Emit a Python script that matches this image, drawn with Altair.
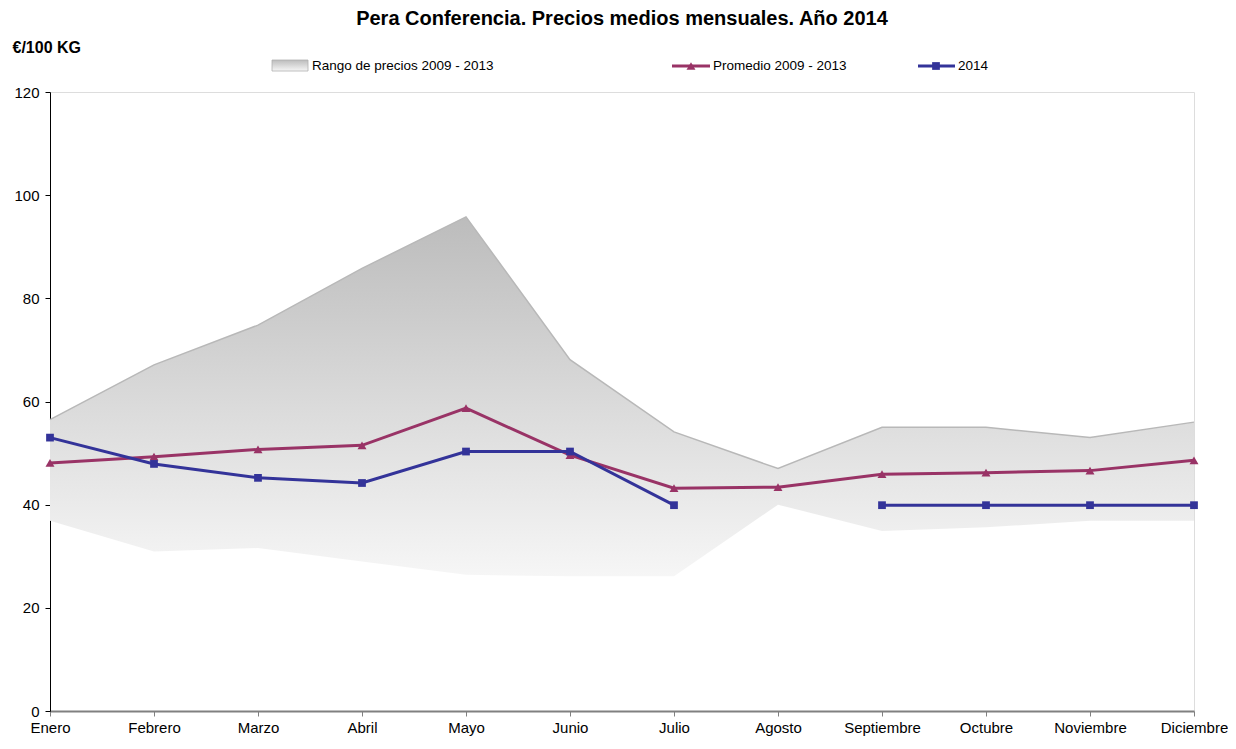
import altair as alt
import pandas as pd

months = ["Enero", "Febrero", "Marzo", "Abril", "Mayo", "Junio", "Julio",
          "Agosto", "Septiembre", "Octubre", "Noviembre", "Diciembre"]
rango_max = [56.5, 67.1, 74.8, 85.8, 95.8, 68.1, 54.1, 47.0, 55.0, 55.0, 53.0, 56.0]
rango_min = [36.9, 30.9, 31.6, 29.0, 26.4, 26.1, 26.1, 40.0, 34.9, 35.6, 36.9, 36.9]
promedio = [48.1, 49.3, 50.7, 51.5, 58.7, 49.6, 43.2, 43.4, 45.9, 46.2, 46.6, 48.6]
precio_2014 = [53.0, 47.9, 45.2, 44.2, 50.3, 50.3, 39.9, None, 39.9, 39.9, 39.9, 39.9]
y_ticks = [0, 20, 40, 60, 80, 100, 120]

FONT = "Liberation Sans"
C_PROM = "#993366"
C_2014 = "#333399"

seg = []
s = 0
for v in precio_2014:
    if v is None:
        s += 1
    seg.append(s)

df = pd.DataFrame({
    "mes": months, "max": rango_max, "min": rango_min,
    "prom": promedio, "p2014": precio_2014, "seg": seg,
})
df14 = df.dropna(subset=["p2014"])

xscale = alt.Scale(type="point", padding=0, domain=months)
x = alt.X("mes:N", scale=xscale, sort=months,
          axis=alt.Axis(title=None, labelAngle=0, labelFont=FONT, labelFontSize=15,
                        labelColor="black", labelPadding=4, tickColor="#808080",
                        tickSize=5, domainColor="#808080", domainWidth=2,
                        labelOverlap=False))
yscale = alt.Scale(domain=[0, 120], nice=False)
yaxis = alt.Axis(values=y_ticks, title="€/100 KG", titleAngle=0, titleX=-38, titleY=-45,
                 titleAlign="left", titleBaseline="middle", titleFont=FONT,
                 titleFontSize=16, titleFontWeight="bold", titleColor="black",
                 labelFont=FONT, labelFontSize=15, labelColor="black", labelPadding=6,
                 tickColor="black", tickSize=5, domainColor="black", grid=False)

grad = alt.Gradient(gradient="linear",
                    stops=[alt.GradientStop(color="#bcbcbc", offset=0),
                           alt.GradientStop(color="#f6f6f6", offset=1)],
                    x1=0, x2=0, y1=0, y2=1)

band = alt.Chart(df).mark_area(fill=grad, opacity=1).encode(
    x=x, y=alt.Y("max:Q", scale=yscale, axis=yaxis), y2="min:Q")
upper = alt.Chart(df).mark_line(color="#b8b8b8", strokeWidth=1.5).encode(
    x=x, y="max:Q")

prom_line = alt.Chart(df).mark_line(color=C_PROM, strokeWidth=3).encode(x=x, y="prom:Q")
prom_pts = alt.Chart(df).mark_point(shape="triangle-up", filled=True, color=C_PROM,
                                    size=80, opacity=1).encode(x=x, y="prom:Q")
l14 = alt.Chart(df14).mark_line(color=C_2014, strokeWidth=3).encode(
    x=x, y="p2014:Q", detail="seg:N")
p14 = alt.Chart(df14).mark_point(shape="square", filled=True, color=C_2014,
                                 size=60, opacity=1).encode(x=x, y="p2014:Q")

# legend (custom, above plot)
LY = -26
leg = pd.DataFrame({"d": [0]})
lg_sw = alt.Chart(leg).mark_rect(fill=grad, stroke="#b0b0b0", strokeWidth=0.8).encode(
    x=alt.value(222), x2=alt.value(258), y=alt.value(LY - 6), y2=alt.value(LY + 5))
lg_t1 = alt.Chart(leg).mark_text(text="Rango de precios 2009 - 2013", align="left",
                                 baseline="middle", font=FONT, fontSize=13.5,
                                 color="black").encode(x=alt.value(262), y=alt.value(LY))
lg_l2 = alt.Chart(leg).mark_rule(color=C_PROM, strokeWidth=3).encode(
    x=alt.value(622), x2=alt.value(660), y=alt.value(LY))
lg_p2 = alt.Chart(leg).mark_point(shape="triangle-up", filled=True, color=C_PROM,
                                  size=80, opacity=1).encode(x=alt.value(641), y=alt.value(LY))
lg_t2 = alt.Chart(leg).mark_text(text="Promedio 2009 - 2013", align="left",
                                 baseline="middle", font=FONT, fontSize=13.5,
                                 color="black").encode(x=alt.value(663), y=alt.value(LY))
lg_l3 = alt.Chart(leg).mark_rule(color=C_2014, strokeWidth=3).encode(
    x=alt.value(868), x2=alt.value(905), y=alt.value(LY))
lg_p3 = alt.Chart(leg).mark_point(shape="square", filled=True, color=C_2014,
                                  size=60, opacity=1).encode(x=alt.value(886), y=alt.value(LY))
lg_t3 = alt.Chart(leg).mark_text(text="2014", align="left",
                                 baseline="middle", font=FONT, fontSize=13.5,
                                 color="black").encode(x=alt.value(908), y=alt.value(LY))

chart = alt.layer(
    band, upper, prom_line, prom_pts, l14, p14,
    lg_sw, lg_t1, lg_l2, lg_p2, lg_t2, lg_l3, lg_p3, lg_t3,
).properties(
    width=1144, height=619,
    title=alt.TitleParams("Pera Conferencia. Precios medios mensuales. Año 2014",
                          font=FONT, fontSize=20, fontWeight="bold", color="black",
                          anchor="middle", frame="group", offset=10, dx=0),
    autosize=alt.AutoSizeParams(type="none"),
    padding={"left": 42, "top": 84, "right": 34, "bottom": 27},
).configure_view(
    stroke="#a0a0a0", strokeWidth=1
).configure(background="white")

chart.save("out.html", embed_options={"renderer": "svg", "actions": False})
